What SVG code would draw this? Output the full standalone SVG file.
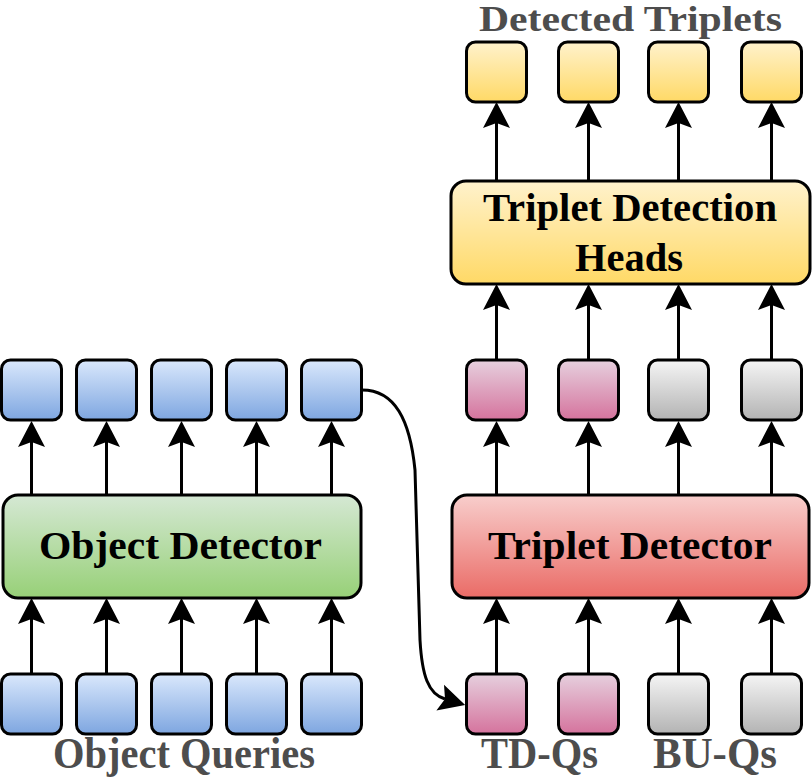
<svg xmlns="http://www.w3.org/2000/svg" width="812" height="778" viewBox="0 0 812 778">
<defs>
<linearGradient id="gBlue" x1="0" y1="0" x2="0" y2="1"><stop offset="0" stop-color="#dae8fc"/><stop offset="1" stop-color="#7ea6e0"/></linearGradient>
<linearGradient id="gGreen" x1="0" y1="0" x2="0" y2="1"><stop offset="0" stop-color="#d5e8d4"/><stop offset="1" stop-color="#97d077"/></linearGradient>
<linearGradient id="gRed" x1="0" y1="0" x2="0" y2="1"><stop offset="0" stop-color="#f8cecc"/><stop offset="1" stop-color="#ea6b66"/></linearGradient>
<linearGradient id="gPink" x1="0" y1="0" x2="0" y2="1"><stop offset="0" stop-color="#e6d0de"/><stop offset="1" stop-color="#d5739d"/></linearGradient>
<linearGradient id="gGray" x1="0" y1="0" x2="0" y2="1"><stop offset="0" stop-color="#f5f5f5"/><stop offset="1" stop-color="#b3b3b3"/></linearGradient>
<linearGradient id="gYellow" x1="0" y1="0" x2="0" y2="1"><stop offset="0" stop-color="#fff2cc"/><stop offset="1" stop-color="#ffd966"/></linearGradient>
<marker id="arr" viewBox="0 -14 27 28" markerWidth="27" markerHeight="28" refX="5" refY="0" orient="auto" markerUnits="userSpaceOnUse" overflow="visible">
<path d="M26,0 L0,-13.5 L5,0 L0,13.5 Z" fill="#000"/>
</marker>
</defs>
<style>
.sq{stroke:#000;stroke-width:3}
.big{stroke:#000;stroke-width:3}
text{font-family:"Liberation Serif",Tinos,"Nimbus Roman","Times New Roman",Times,serif;font-weight:700}
.bt{font-size:41px;fill:#000;text-anchor:middle}
.lb{fill:#4d4d4d;text-anchor:middle}
.e{fill:none;stroke:#000;stroke-width:3;marker-end:url(#arr)}
</style>

<g id="connectors">
<path class="e" d="M31.5,674 V619"/>
<path class="e" d="M106.5,674 V619"/>
<path class="e" d="M181.5,674 V619"/>
<path class="e" d="M256.5,674 V619"/>
<path class="e" d="M331.5,674 V619"/>
<path class="e" d="M31.5,495 V442"/>
<path class="e" d="M106.5,495 V442"/>
<path class="e" d="M181.5,495 V442"/>
<path class="e" d="M256.5,495 V442"/>
<path class="e" d="M331.5,495 V442"/>
<path class="e" d="M496.5,674 V619"/>
<path class="e" d="M588.5,674 V619"/>
<path class="e" d="M678.5,674 V619"/>
<path class="e" d="M771.5,674 V619"/>
<path class="e" d="M496.5,495 V442"/>
<path class="e" d="M588.5,495 V442"/>
<path class="e" d="M678.5,495 V442"/>
<path class="e" d="M771.5,495 V442"/>
<path class="e" d="M496.5,360 V305"/>
<path class="e" d="M588.5,360 V305"/>
<path class="e" d="M678.5,360 V305"/>
<path class="e" d="M771.5,360 V305"/>
<path class="e" d="M496.5,181 V123"/>
<path class="e" d="M588.5,181 V123"/>
<path class="e" d="M678.5,181 V123"/>
<path class="e" d="M771.5,181 V123"/>
<path class="e" d="M362,390 C395,390 410,420 415,470 L420,640 C422,675 428,694 445,699"/>
</g>

<g id="object-queries">
<rect class="sq" x="1.5" y="674" width="60" height="60" rx="9" fill="url(#gBlue)"/>
<rect class="sq" x="76.5" y="674" width="60" height="60" rx="9" fill="url(#gBlue)"/>
<rect class="sq" x="151.5" y="674" width="60" height="60" rx="9" fill="url(#gBlue)"/>
<rect class="sq" x="226.5" y="674" width="60" height="60" rx="9" fill="url(#gBlue)"/>
<rect class="sq" x="301.5" y="674" width="60" height="60" rx="9" fill="url(#gBlue)"/>
</g>
<g id="object-outputs">
<rect class="sq" x="1.5" y="360" width="60" height="60" rx="9" fill="url(#gBlue)"/>
<rect class="sq" x="76.5" y="360" width="60" height="60" rx="9" fill="url(#gBlue)"/>
<rect class="sq" x="151.5" y="360" width="60" height="60" rx="9" fill="url(#gBlue)"/>
<rect class="sq" x="226.5" y="360" width="60" height="60" rx="9" fill="url(#gBlue)"/>
<rect class="sq" x="301.5" y="360" width="60" height="60" rx="9" fill="url(#gBlue)"/>
</g>
<g id="object-detector">
<rect class="big" x="3" y="495" width="358" height="103" rx="15" fill="url(#gGreen)"/>
<text class="bt" x="180.5" y="559" textLength="283" lengthAdjust="spacingAndGlyphs">Object Detector</text>
</g>

<g id="td-queries">
<rect class="sq" x="466.5" y="674" width="60" height="60" rx="9" fill="url(#gPink)"/>
<rect class="sq" x="558.5" y="674" width="60" height="60" rx="9" fill="url(#gPink)"/>
</g>
<g id="bu-queries">
<rect class="sq" x="648.5" y="674" width="60" height="60" rx="9" fill="url(#gGray)"/>
<rect class="sq" x="741.5" y="674" width="60" height="60" rx="9" fill="url(#gGray)"/>
</g>
<g id="triplet-detector">
<rect class="big" x="452" y="495" width="357" height="103" rx="15" fill="url(#gRed)"/>
<text class="bt" x="630" y="559" textLength="284" lengthAdjust="spacingAndGlyphs">Triplet Detector</text>
</g>
<g id="triplet-outputs">
<rect class="sq" x="466.5" y="360" width="60" height="60" rx="9" fill="url(#gPink)"/>
<rect class="sq" x="558.5" y="360" width="60" height="60" rx="9" fill="url(#gPink)"/>
<rect class="sq" x="648.5" y="360" width="60" height="60" rx="9" fill="url(#gGray)"/>
<rect class="sq" x="741.5" y="360" width="60" height="60" rx="9" fill="url(#gGray)"/>
</g>
<g id="triplet-detection-heads">
<rect class="big" x="451" y="181" width="359" height="103" rx="15" fill="url(#gYellow)"/>
<text class="bt" x="630" y="221" textLength="294" lengthAdjust="spacingAndGlyphs">Triplet Detection</text>
<text class="bt" x="629" y="271" textLength="108" lengthAdjust="spacingAndGlyphs">Heads</text>
</g>
<g id="detected-triplets">
<rect class="sq" x="466.5" y="42" width="60" height="60" rx="9" fill="url(#gYellow)"/>
<rect class="sq" x="558.5" y="42" width="60" height="60" rx="9" fill="url(#gYellow)"/>
<rect class="sq" x="648.5" y="42" width="60" height="60" rx="9" fill="url(#gYellow)"/>
<rect class="sq" x="741.5" y="42" width="60" height="60" rx="9" fill="url(#gYellow)"/>
</g>

<g id="labels">
<text class="lb" x="630.5" y="31" font-size="35" textLength="303" lengthAdjust="spacingAndGlyphs">Detected Triplets</text>
<text class="lb" x="184" y="768" font-size="44" textLength="262" lengthAdjust="spacingAndGlyphs">Object Queries</text>
<text class="lb" x="539.5" y="768" font-size="44" textLength="117" lengthAdjust="spacingAndGlyphs">TD-Qs</text>
<text class="lb" x="715" y="768" font-size="44" textLength="124" lengthAdjust="spacingAndGlyphs">BU-Qs</text>
</g>
</svg>
